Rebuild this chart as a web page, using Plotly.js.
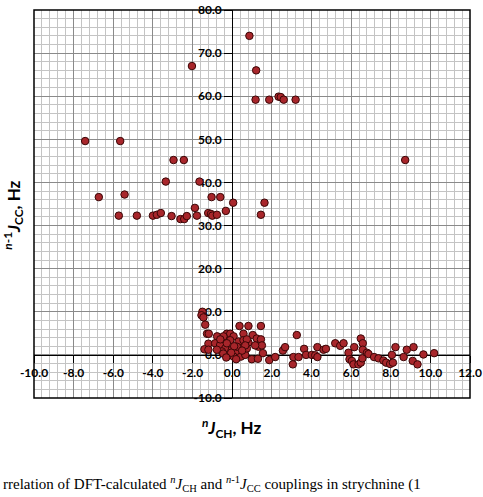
<!DOCTYPE html>
<html>
<head>
<meta charset="utf-8">
<script src="https://cdn.plot.ly/plotly-3.0.1.min.js"></script>
<style>html,body{margin:0;padding:0;background:#fff;}#chart{width:483px;height:497px;}</style>
</head>
<body>
<div id="chart"></div>
<script>
// nJCH (x) and n-1JCC (y) couplings, Hz
const jch = [
  -7.42,-5.65,-2.03,-2.96,-2.44,-3.35,-1.65,-6.73,-5.43,-1.04,-0.60,
  0.87,1.21,1.18,1.87,2.34,2.45,2.60,3.20,8.73,
  -5.72,-4.81,-4.00,-3.80,-3.60,-3.06,-2.61,-2.42,-2.29,-1.88,-1.78,-1.21,-1.07,-1.00,-0.77,-0.32,0.05,1.63,1.45,
  -1.50,-1.55,-1.45,-1.36,-1.27,-1.18,-1.20,-1.40,-1.20,-0.76,-0.27,-0.10,0.37,0.82,1.45,-0.86,-0.44,0.07,0.57,1.04,
  1.24,1.33,1.45,1.50,1.55,0.82,0.44,-0.61,-0.35,-0.02,0.24,-0.19,0.07,0.44,0.66,0.99,1.30,-0.52,-0.77,1.87,2.17,
  2.56,2.67,0.32,0.57,-0.10,-0.27,0.74,0.24,0.74,0.66,1.16,-0.60,-0.45,0.10,-0.05,0.50,-0.30,0.20,
  3.09,3.06,3.26,3.35,3.63,3.73,4.02,4.19,4.30,4.30,4.61,4.73,5.20,5.45,5.62,5.87,5.92,6.04,6.12,6.16,6.37,6.49,
  6.49,6.59,6.59,6.57,6.80,6.88,7.16,7.38,7.63,7.77,7.97,8.11,8.06,8.24,8.65,8.81,9.11,9.15,9.35,9.65,10.19
];
const jcc = [
  49.6,49.6,67.0,45.2,45.2,40.2,40.2,36.6,37.2,36.6,36.6,
  74.0,66.0,59.2,59.2,59.9,59.8,59.2,59.2,45.2,
  32.3,32.3,32.3,32.5,32.9,32.2,31.5,31.5,32.2,34.1,32.3,32.9,32.7,32.3,32.5,33.4,35.3,35.3,32.5,
  10.0,9.2,8.7,7.0,4.9,4.9,2.6,1.3,1.2,4.3,4.9,4.9,6.7,6.7,6.7,2.7,4.3,4.3,4.9,4.6,
  3.8,1.9,3.6,2.2,0.4,2.9,2.3,2.3,1.5,1.2,0.8,0.0,-0.4,-0.4,0.0,-1.0,-0.9,0.8,1.2,-1.2,-0.5,
  1.0,1.8,3.1,3.4,3.4,2.7,1.5,1.9,3.6,2.2,2.2,3.6,0.3,2.0,0.5,1.0,-0.6,-1.0,
  -0.5,-2.2,4.6,-0.5,1.4,0.0,0.0,-0.1,-0.5,1.8,1.2,1.4,2.7,2.1,2.7,0.5,-1.0,-1.4,-2.2,1.8,-2.2,-1.8,
  3.8,2.7,1.2,-0.8,0.5,0.2,-0.5,-0.8,-1.3,-1.8,-2.1,-1.8,0.0,1.8,-0.5,1.2,-1.4,1.8,-2.2,0.1,0.4
];
const xTickVals = [-10,-8,-6,-4,-2,0,2,4,6,8,10,12];
const xTickText = ["-10.0","-8.0","-6.0","-4.0","-2.0","0.0","2.0","4.0","6.0","8.0","10.0","12.0"];
const yTickVals = [-10,0,10,20,30,40,50,60,70,80];
const yTickText = ["-10.0","0.0","10.0","20.0","30.0","40.0","50.0","60.0","70.0","80.0"];

const tickFont = {family: "Lato, 'Open Sans', sans-serif", size: 12, color: "#000", weight: 700};

const trace = {
  x: jch, y: jcc, type: "scatter", mode: "markers",
  marker: {size: 7.5, color: "#A8262B", line: {color: "#3a0606", width: 1}},
  hoverinfo: "skip", showlegend: false
};

const layout = {
  width: 483, height: 497,
  margin: {l: 34, r: 13, t: 10, b: 99},
  paper_bgcolor: "#fff", plot_bgcolor: "#fff",
  showlegend: false,
  xaxis: {
    range: [-10, 12], anchor: "free", position: 10/90,
    tickmode: "array", tickvals: xTickVals, ticktext: xTickText,
    showgrid: true, gridcolor: "#8a8a8a", gridwidth: 1,
    minor: {dtick: 0.4, showgrid: true, gridcolor: "#c4c4c4", gridwidth: 1, ticks: ""},
    zeroline: false, showline: true, linecolor: "#000", linewidth: 1,
    ticks: "outside", ticklen: 7, tickcolor: "#000", tickwidth: 1,
    tickfont: tickFont, layer: "below traces", fixedrange: true
  },
  yaxis: {
    range: [-10, 80], anchor: "free", position: 10/22,
    tickmode: "array", tickvals: yTickVals, ticktext: yTickText,
    showgrid: true, gridcolor: "#8a8a8a", gridwidth: 1,
    minor: {dtick: 2, showgrid: true, gridcolor: "#c4c4c4", gridwidth: 1, ticks: ""},
    zeroline: false, showline: true, linecolor: "#000", linewidth: 1,
    ticks: "outside", ticklen: 8, tickcolor: "#000", tickwidth: 1,
    tickfont: tickFont, layer: "below traces", fixedrange: true
  },
  shapes: [{type: "rect", xref: "paper", yref: "paper", x0: 0, x1: 1, y0: 0, y1: 1,
            line: {color: "#000", width: 1.5}, layer: "above"}],
  annotations: [
    {xref: "paper", yref: "paper", x: 0.454, y: -0.077, xanchor: "center", yanchor: "middle",
     showarrow: false,
     text: "<b><sup><i>n</i></sup><i>J</i><sub>CH</sub>, Hz</b>",
     font: {family: "Lato, 'Open Sans', sans-serif", size: 17, color: "#000"}},
    {xref: "paper", yref: "paper", x: -0.048, y: 0.47, xanchor: "center", yanchor: "middle",
     showarrow: false, textangle: -90,
     text: "<b><sup><i>n</i>-1</sup><i>J</i><sub>CC</sub>, Hz</b>",
     font: {family: "Lato, 'Open Sans', sans-serif", size: 17, color: "#000"}},
    {xref: "paper", yref: "paper", x: -0.076, y: -0.19, xanchor: "left", yanchor: "top",
     showarrow: false,
     text: "rrelation of DFT-calculated <sup><i>n</i></sup><i>J</i><sub>CH</sub> and <sup><i>n</i>-1</sup><i>J</i><sub>CC</sub> couplings in strychnine (1",
     font: {family: "'Liberation Serif', 'DejaVu Serif', serif", size: 15, color: "#000"}}
  ]
};

Plotly.newPlot("chart", [trace], layout, {staticPlot: true, displayModeBar: false});
</script>
</body>
</html>
